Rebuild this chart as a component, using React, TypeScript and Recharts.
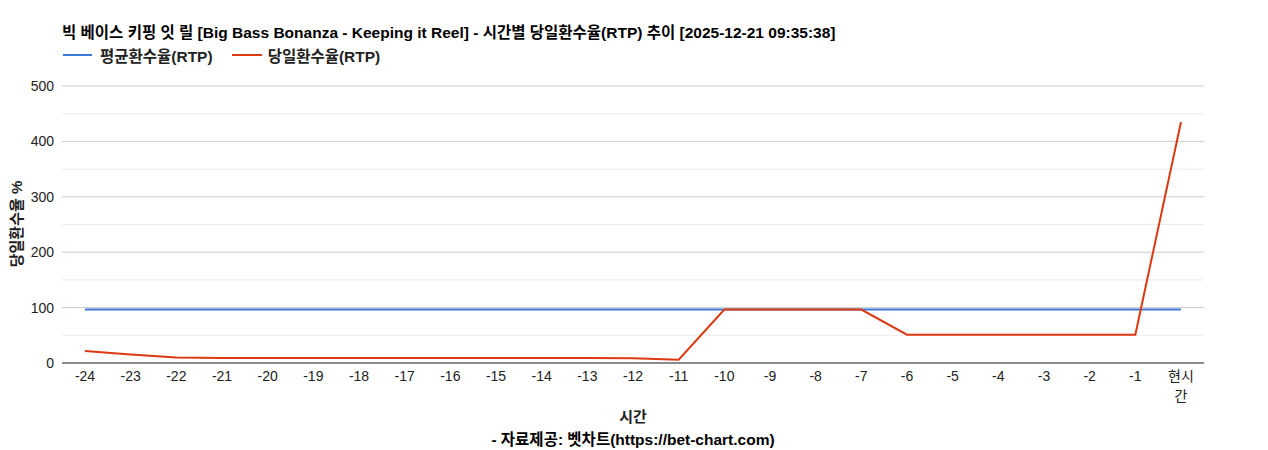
import React from 'react';
import { LineChart, Line, XAxis, YAxis, CartesianGrid, ReferenceLine } from 'recharts';

const categories = ['-24','-23','-22','-21','-20','-19','-18','-17','-16','-15','-14','-13','-12','-11','-10','-9','-8','-7','-6','-5','-4','-3','-2','-1','현시간'];
const avgRtp = [96.5,96.5,96.5,96.5,96.5,96.5,96.5,96.5,96.5,96.5,96.5,96.5,96.5,96.5,96.5,96.5,96.5,96.5,96.5,96.5,96.5,96.5,96.5,96.5,96.5];
const dayRtp = [21.5,15.5,10,9,9,9,9,9,9,9,9,9,8.5,6,96.5,96.5,96.5,96.5,51,51,51,51,51,51,435];
const yTicks = [0,100,200,300,400,500];
const yMinorTicks = [50,150,250,350,450];

const seriesNames = { avg: '평균환수율(RTP)', day: '당일환수율(RTP)' };
const seriesColors = { avg: '#3c78d8', day: '#dc3912' };
const title = '빅 베이스 키핑 잇 릴 [Big Bass Bonanza - Keeping it Reel] - 시간별 당일환수율(RTP) 추이 [2025-12-21 09:35:38]';
const xTitle = '시간';
const yTitle = '당일환수율 %';
const credit = '- 자료제공: 벳차트(https://bet-chart.com)';

const data = categories.map((c, i) => ({ name: c, avg: avgRtp[i], day: dayRtp[i] }));

const FONT = "Arial, 'Liberation Sans', 'Noto Sans CJK KR', sans-serif";

const XTick = (props: any) => {
  const { x, y, payload } = props;
  const v: string = payload.value;
  const lines = /^[-\d]+$/.test(v) ? [v] : [v.slice(0, 2), v.slice(2)];
  return (
    <text x={x} y={y} textAnchor="middle" fill="#222" fontSize={14} fontFamily={FONT}>
      {lines.map((l, i) => (
        <tspan key={i} x={x} dy={i === 0 ? 14 : 20}>{l}</tspan>
      ))}
    </text>
  );
};

export default function App() {
  return (
    <div style={{ position: 'absolute', left: 0, top: 0, width: 1268, height: 450, fontFamily: FONT, background: '#fff' }}>
      <div style={{ position: 'absolute', left: 62, top: 20, fontSize: 15.5, fontWeight: 'bold', color: '#000', whiteSpace: 'nowrap' }}>{title}</div>
      <div style={{ position: 'absolute', left: 63, top: 44, fontSize: 15.5, fontWeight: 'bold', color: '#222', whiteSpace: 'nowrap', display: 'flex', alignItems: 'center' }}>
        <span style={{ display: 'inline-block', width: 29, height: 2, background: seriesColors.avg, marginRight: 8 }} />
        <span style={{ marginRight: 19 }}>{seriesNames.avg}</span>
        <span style={{ display: 'inline-block', width: 30, height: 2, background: seriesColors.day, marginRight: 6 }} />
        <span>{seriesNames.day}</span>
      </div>
      <div style={{ position: 'absolute', left: 15, top: 224, transform: 'translate(-50%, -50%) rotate(-90deg)', fontSize: 15, fontWeight: 'bold', color: '#222', whiteSpace: 'nowrap' }}>{yTitle}</div>
      <div style={{ position: 'absolute', left: 633, top: 405, transform: 'translateX(-50%)', fontSize: 15, fontWeight: 'bold', color: '#222', whiteSpace: 'nowrap' }}>{xTitle}</div>
      <div style={{ position: 'absolute', left: 633, top: 427, transform: 'translateX(-50%)', fontSize: 15.5, fontWeight: 'bold', color: '#000', whiteSpace: 'nowrap' }}>{credit}</div>
      <LineChart width={1268} height={450} data={data} margin={{ top: 86, right: 64, bottom: 47, left: 0 }} style={{ position: 'absolute', left: 0, top: 0 }}>
        <CartesianGrid vertical={false} stroke="#cccccc" />
        {yMinorTicks.map((t) => (
          <ReferenceLine key={t} y={t} stroke="#ebebeb" strokeWidth={1} />
        ))}
        <XAxis dataKey="name" height={40} padding={{ left: 23, right: 23 }} axisLine={{ stroke: '#333', strokeWidth: 1 }} tickLine={false} tickSize={0} tickMargin={4} interval={0} tick={<XTick />} />
        <YAxis width={62} domain={[0, 500]} ticks={yTicks} axisLine={false} tickLine={false} tickSize={0} tickMargin={8} tick={{ fill: '#222', fontSize: 14, fontFamily: FONT }} />
        <Line type="linear" dataKey="avg" stroke={seriesColors.avg} strokeWidth={2} dot={false} isAnimationActive={false} />
        <Line type="linear" dataKey="day" stroke={seriesColors.day} strokeWidth={2} dot={false} isAnimationActive={false} />
      </LineChart>
    </div>
  );
}
